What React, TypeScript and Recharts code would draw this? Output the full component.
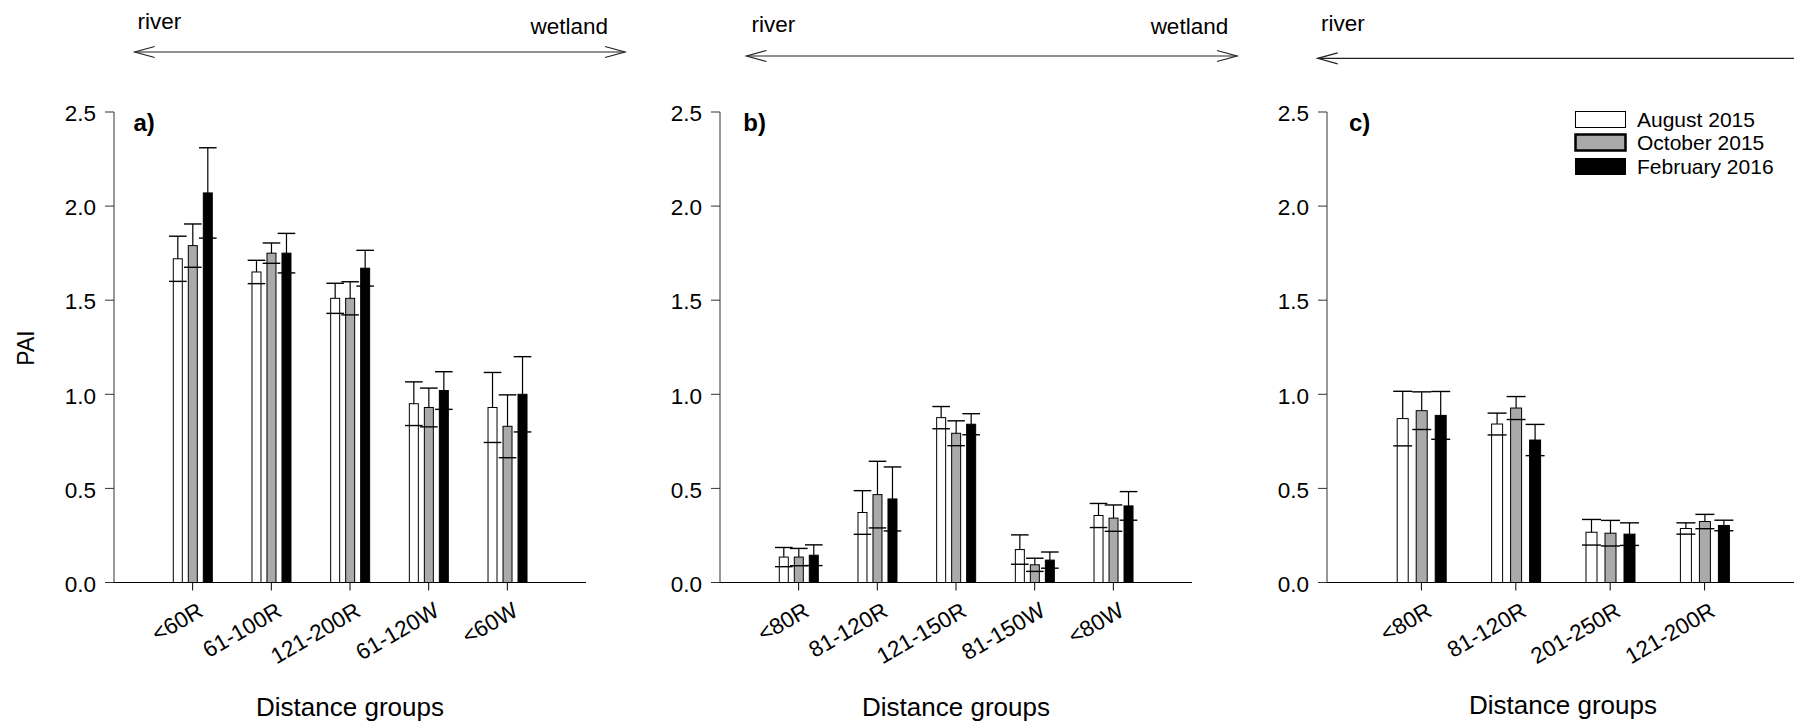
import React from 'react'
import { BarChart, Bar, XAxis, YAxis, Legend } from 'recharts'

const FONT = '"Liberation Sans", Arial, Helvetica, sans-serif'

// sampling campaigns, one bar series each
const seasons = ['August 2015', 'October 2015', 'February 2016']
const seasonKeys = ['aug', 'oct', 'feb']
const seasonFills = ['#ffffff', '#aaaaaa', '#000000']

const yTicks = [0, 0.5, 1, 1.5, 2, 2.5]

// a) transect
const groupsA = ['<60R', '61-100R', '121-200R', '61-120W', '<60W']
const augA = [1.72, 1.65, 1.51, 0.95, 0.93]
const augErrA = [0.12, 0.062, 0.08, 0.116, 0.186]
const octA = [1.79, 1.75, 1.51, 0.93, 0.83]
const octErrA = [0.115, 0.054, 0.088, 0.103, 0.167]
const febA = [2.07, 1.75, 1.67, 1.02, 1.0]
const febErrA = [0.24, 0.105, 0.095, 0.1, 0.2]

// b) transect
const groupsB = ['<80R', '81-120R', '121-150R', '81-150W', '<80W']
const augB = [0.135, 0.372, 0.876, 0.175, 0.356]
const augErrB = [0.051, 0.116, 0.059, 0.078, 0.064]
const octB = [0.135, 0.467, 0.793, 0.094, 0.342]
const octErrB = [0.046, 0.177, 0.066, 0.035, 0.07]
const febB = [0.145, 0.444, 0.841, 0.119, 0.407]
const febErrB = [0.055, 0.17, 0.056, 0.043, 0.076]

// c) transect
const groupsC = ['<80R', '81-120R', '201-250R', '121-200R']
const augC = [0.871, 0.842, 0.267, 0.287]
const augErrC = [0.145, 0.058, 0.068, 0.03]
const octC = [0.913, 0.927, 0.262, 0.324]
const octErrC = [0.1, 0.061, 0.068, 0.038]
const febC = [0.888, 0.757, 0.257, 0.303]
const febErrC = [0.127, 0.083, 0.06, 0.028]

function buildRows(
  groups: string[],
  aug: number[], augErr: number[],
  oct: number[], octErr: number[],
  feb: number[], febErr: number[],
) {
  return groups.map((group, i) => ({
    group,
    aug: aug[i], augErr: augErr[i],
    oct: oct[i], octErr: octErr[i],
    feb: feb[i], febErr: febErr[i],
  }))
}

const rowsA = buildRows(groupsA, augA, augErrA, octA, octErrA, febA, febErrA)
const rowsB = buildRows(groupsB, augB, augErrB, octB, octErrB, febB, febErrB)
const rowsC = buildRows(groupsC, augC, augErrC, octC, octErrC, febC, febErrC)

const PLOT_W = 472

// bar + SE whisker above it, lower cap drawn across the bar
function BarWithSE(props: any) {
  const { x, y, width, height, fill, mean, err, cap } = props
  if (!height || !mean) return null
  const perUnit = height / mean
  const cx = x + width / 2
  const hi = y - err * perUnit
  const lo = y + err * perUnit
  return (
    <g>
      <rect x={x} y={y} width={width} height={height} fill={fill} stroke="#000" strokeWidth={1} />
      <line x1={cx} x2={cx} y1={y} y2={hi} stroke="#000" strokeWidth={1.2} />
      <line x1={cx - cap} x2={cx + cap} y1={hi} y2={hi} stroke="#000" strokeWidth={1.4} />
      <line x1={cx - cap} x2={cx + cap} y1={lo} y2={lo} stroke="#000" strokeWidth={1.4} />
    </g>
  )
}

function renderYTick(props: any) {
  const { x, y, payload } = props
  return (
    <text x={x} y={y} dy={9.2} textAnchor="end" fontSize={22.5} fontFamily={FONT} fill="#000">
      {Number(payload.value).toFixed(1)}
    </text>
  )
}

function renderXTick(props: any) {
  const { x, y, payload } = props
  return (
    <g transform={`translate(${x + 12},${y})`}>
      <text transform="rotate(-30)" textAnchor="end" fontSize={22.5} fontFamily={FONT} fill="#000">
        {payload.value}
      </text>
    </g>
  )
}

const legendRowY = [19.5, 42.5, 66.5]

// legend keeps the series order (Recharts sorts the payload by name otherwise)
function renderLegend() {
  return (
    <svg width={260} height={85} style={{ display: 'block' }}>
      {seasons.map((name, i) => (
        <g key={name}>
          <rect
            x={8.5}
            y={legendRowY[i] - 8}
            width={50}
            height={16}
            fill={seasonFills[i]}
            stroke="#000"
            strokeWidth={i === 1 ? 2.5 : 1}
          />
          <text x={70} y={legendRowY[i] + 7.8} fontSize={21} fontFamily={FONT} fill="#000">
            {name}
          </text>
        </g>
      ))}
    </svg>
  )
}

interface PanelProps {
  left: number
  axisWidth: number
  rows: any[]
  pad: number
  barSize: number
  barGap: number
  cap: number
  titleOffset: number
  legend?: boolean
}

function Panel({ left, axisWidth, rows, pad, barSize, barGap, cap, titleOffset, legend }: PanelProps) {
  return (
    <div style={{ position: 'absolute', left, top: 0 }}>
      <BarChart
        width={axisWidth + PLOT_W + 20}
        height={725}
        data={rows}
        margin={{ top: 112, right: 20, bottom: 0, left: 0 }}
        barSize={barSize}
        barGap={barGap}
      >
        <XAxis
          dataKey="group"
          type="category"
          interval={0}
          padding={{ left: pad, right: pad }}
          height={142.5}
          tickSize={8}
          tickMargin={24.5}
          tick={renderXTick}
          axisLine={{ stroke: '#000', strokeWidth: 1.2 }}
          tickLine={{ stroke: '#000' }}
          label={{
            value: 'Distance groups',
            position: 'insideBottom',
            offset: titleOffset,
            fontSize: 26,
            fontFamily: FONT,
            fill: '#000',
          }}
        />
        <YAxis
          width={axisWidth}
          domain={[0, 2.5]}
          ticks={yTicks}
          tickSize={9}
          tickMargin={9}
          tick={renderYTick}
          axisLine={{ stroke: '#333' }}
          tickLine={{ stroke: '#333' }}
        />
        {seasonKeys.map((k, i) => (
          <Bar
            key={k}
            dataKey={k}
            name={seasons[i]}
            fill={seasonFills[i]}
            isAnimationActive={false}
            shape={(p: any) => (
              <BarWithSE {...p} mean={p.payload[k]} err={p.payload[k + 'Err']} cap={cap} />
            )}
          />
        ))}
        {legend && (
          <Legend
            layout="vertical"
            align="center"
            verticalAlign="middle"
            content={renderLegend}
            wrapperStyle={{ position: 'absolute', left: 340, top: 100, width: 260, height: 85, margin: 0 }}
          />
        )}
      </BarChart>
    </div>
  )
}

function Arrow({ x1, x2, y }: { x1: number; x2: number; y: number }) {
  return (
    <g stroke="#222" strokeWidth={1.2} fill="none">
      <line x1={x1} y1={y} x2={x2} y2={y} />
      <polyline points={`${x1 + 20},${y - 5.5} ${x1},${y} ${x1 + 20},${y + 5.5}`} />
      <polyline points={`${x2 - 20},${y - 5.5} ${x2},${y} ${x2 - 20},${y + 5.5}`} />
    </g>
  )
}

function Annotations() {
  const t = { fontFamily: FONT, fill: '#000' }
  return (
    <svg
      width={1794}
      height={725}
      style={{ position: 'absolute', left: 0, top: 0, pointerEvents: 'none' }}
    >
      <Arrow x1={134.7} x2={625} y={52} />
      <text x={137.6} y={28.5} fontSize={22.5} {...t}>river</text>
      <text x={608} y={34} fontSize={22.5} textAnchor="end" {...t}>wetland</text>

      <Arrow x1={746.5} x2={1237} y={56} />
      <text x={751.4} y={32} fontSize={22.5} {...t}>river</text>
      <text x={1228.2} y={34} fontSize={22.5} textAnchor="end" {...t}>wetland</text>

      <Arrow x1={1317.7} x2={1830} y={58.3} />
      <text x={1321} y={31} fontSize={22.5} {...t}>river</text>

      <text x={133.5} y={131} fontSize={24} fontWeight="bold" {...t}>a)</text>
      <text x={743.3} y={131} fontSize={24} fontWeight="bold" {...t}>b)</text>
      <text x={1348.9} y={131} fontSize={24} fontWeight="bold" {...t}>c)</text>

      <text
        transform="translate(33.5,348) rotate(-90)"
        textAnchor="middle"
        fontSize={23}
        {...t}
      >
        PAI
      </text>
    </svg>
  )
}

export default function App() {
  return (
    <div
      style={{
        position: 'absolute',
        left: 0,
        top: 0,
        width: 1794,
        height: 725,
        overflow: 'hidden',
        background: '#fff',
      }}
    >
      <Panel left={0} axisWidth={114} rows={rowsA} pad={39.3} barSize={9} barGap={6} cap={8.8} titleOffset={9} />
      <Panel left={620} axisWidth={100} rows={rowsB} pad={39.3} barSize={9} barGap={6} cap={8.8} titleOffset={9} />
      <Panel left={1227} axisWidth={100} rows={rowsC} pad={47.2} barSize={11} barGap={8} cap={9.5} titleOffset={11} legend />
      <Annotations />
    </div>
  )
}
